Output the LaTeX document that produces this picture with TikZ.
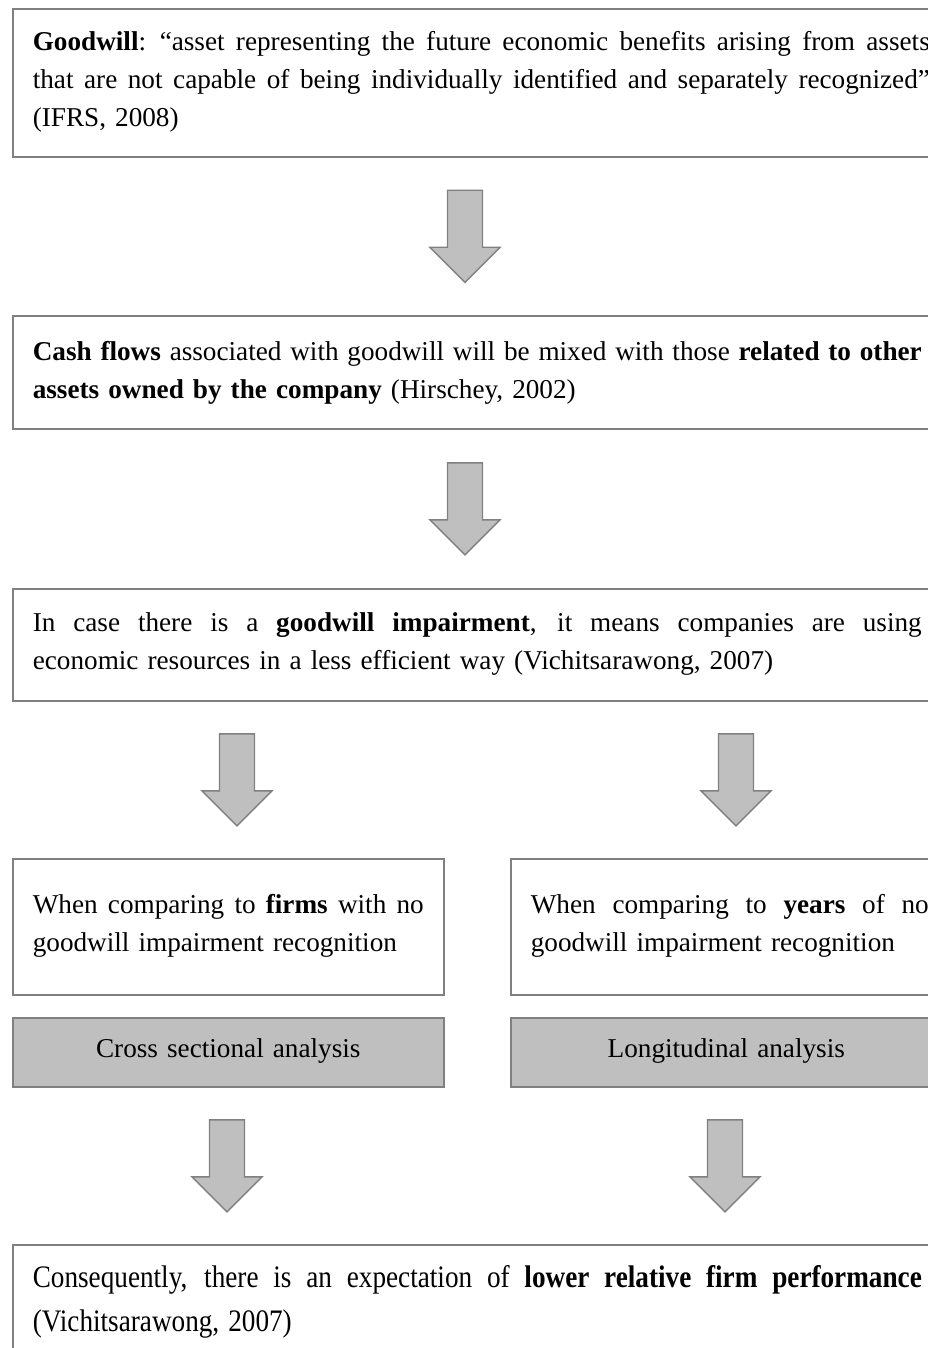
\documentclass[tikz,border=0pt]{standalone}
\usepackage{fontspec}
\setmainfont{Liberation Serif}
\usetikzlibrary{calc}
\definecolor{edgegray}{RGB}{128,128,128}
\definecolor{fillgray}{RGB}{191,191,191}
\newcommand\myjust[2]{\leavevmode\hbox to #1pt{\spaceskip=0.25em plus 1fil\relax #2}}
\newcommand\myleft[2]{\leavevmode\hbox to #1pt{#2\hfil}}
\begin{document}
\begin{tikzpicture}[x=1pt,y=-1pt,
  box/.style={draw=edgegray, line width=1.6pt, anchor=north west, inner xsep=20pt, inner ysep=0pt,
    align=left, font=\fontsize{27.2}{38}\selectfont},
  graybox/.style={box, fill=fillgray, align=center},
  arrowstyle/.style={draw=edgegray, fill=fillgray, line width=1.4pt, line join=miter},
  barrow/.pic={\draw[arrowstyle] (-17.5,-46) -- (17.5,-46) -- (17.5,11) -- (35,11) -- (0,46) -- (-35,11) -- (-17.5,11) -- cycle;}
]
\useasboundingbox[fill=white] (0,0) rectangle (928,1348);

% boxes
\node[box, text width=897pt, text height=42pt, text depth=106pt] (b1) at (12,8)
  {\myjust{897}{\textbf{Goodwill}: “asset representing the future economic benefits arising from assets}\\
   \myjust{897}{that are not capable of being individually identified and separately recognized”}\\
   \myleft{897}{(IFRS, 2008)}};

\node[box, text width=889pt, text height=45pt, text depth=68pt] (b2) at (12,315)
  {\myjust{889}{\textbf{Cash flows} associated with goodwill will be mixed with those \textbf{related to other}}\\
   \myleft{889}{\textbf{assets owned by the company} (Hirschey, 2002)}};

\node[box, text width=889pt, text height=43pt, text depth=69pt] (b3) at (12,588)
  {\myjust{889}{In case there is a \textbf{goodwill impairment}, it means companies are using}\\
   \myleft{889}{economic resources in a less efficient way (Vichitsarawong, 2007)}};

\node[box, text width=391pt, text height=55pt, text depth=81pt] (b4l) at (12,858)
  {\myjust{391}{When comparing to \textbf{firms} with no}\\
   \myleft{391}{goodwill impairment recognition}};

\node[box, text width=398pt, text height=55pt, text depth=81pt] (b4r) at (510,858)
  {\myjust{398}{When comparing to \textbf{years} of no}\\
   \myleft{398}{goodwill impairment recognition}};

\node[graybox, text width=391pt, text height=40pt, text depth=29pt] (gl) at (12,1017)
  {Cross sectional analysis};

\node[graybox, text width=391pt, text height=40pt, text depth=29pt] (gr) at (510,1017)
  {Longitudinal analysis};

\node[box, text width=889pt, text height=43pt, text depth=150pt,
      font=\fontsize{27.2}{37}\selectfont] (b5) at (12,1244)
  {\scalebox{1}[1.15]{\myjust{889}{Consequently, there is an expectation of \textbf{lower relative firm performance}}}\\[7pt]
   \scalebox{1}[1.15]{\myleft{889}{(Vichitsarawong, 2007)}}};

% block arrows (connectors)
\coordinate (xc) at (465,0);
\coordinate (xl3) at (237,0);
\coordinate (xr3) at (736,0);
\coordinate (xl4) at (227,0);
\coordinate (xr4) at (725,0);
\coordinate (m1) at ($(b1.south)!0.5!(b2.north)$);
\coordinate (m2) at ($(b2.south)!0.5!(b3.north)$);
\coordinate (m3) at ($(b3.south)!0.5!(b4l.north)$);
\coordinate (m4) at ($(gl.south)!0.5!(b5.north)$);
\pic at (xc |- m1) {barrow};
\pic at (xc |- m2) {barrow};
\pic at (xl3 |- m3) {barrow};
\pic at (xr3 |- m3) {barrow};
\pic at (xl4 |- m4) {barrow};
\pic at (xr4 |- m4) {barrow};
\end{tikzpicture}
\end{document}
